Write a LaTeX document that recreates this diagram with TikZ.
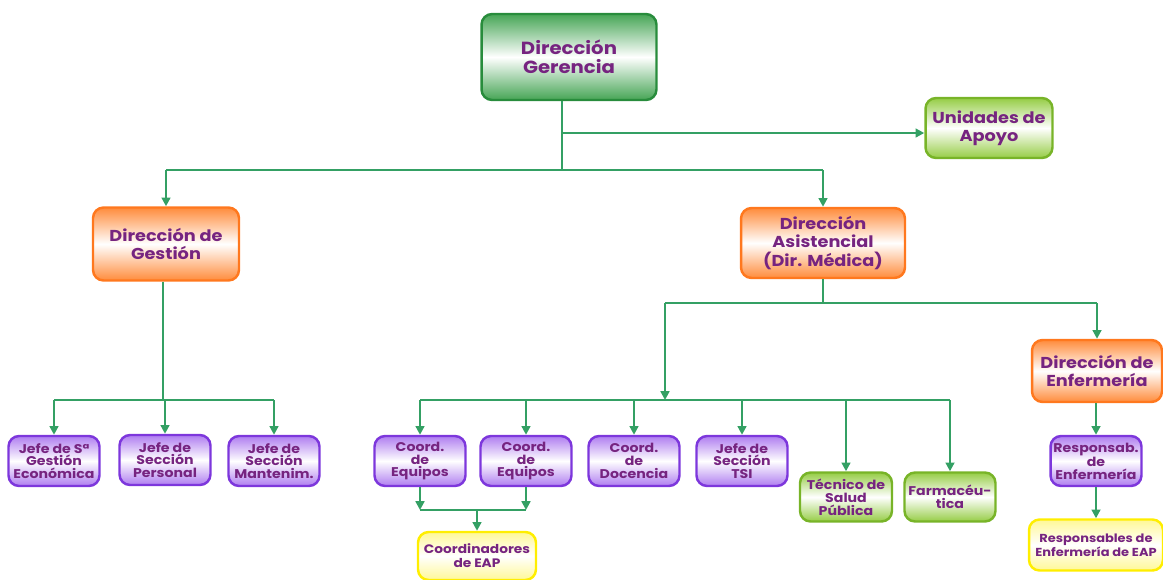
\documentclass[tikz,border=0pt]{standalone}
\usepackage{fontspec}
\setmainfont{Poppins}
\newfontfamily\widefont[FakeStretch=1.12]{Poppins}
\usetikzlibrary{arrows.meta}
\usetikzlibrary{positioning}

\definecolor{txtpurple}{RGB}{118,36,128}
\definecolor{linegreen}{RGB}{52,160,100}
\definecolor{darkgreen}{RGB}{40,140,60}
\definecolor{midgreen}{RGB}{70,165,85}
\definecolor{limeedge}{RGB}{120,180,40}
\definecolor{limefill}{RGB}{150,205,70}
\definecolor{orangeedge}{RGB}{255,120,30}
\definecolor{orangefill}{RGB}{255,140,60}
\definecolor{violetedge}{RGB}{125,55,220}
\definecolor{violetfill}{RGB}{175,125,240}
\definecolor{yellowedge}{RGB}{255,238,0}
\definecolor{yellowfill}{RGB}{255,248,150}

\tikzset{
  box/.style={rounded corners=6pt, line width=1.4pt, align=center, text=txtpurple,
    inner sep=1pt},
  topbox/.style={box, draw=darkgreen, top color=midgreen, bottom color=midgreen, middle color=white,
    minimum width=3.5cm, minimum height=1.72cm, font=\widefont\fontsize{10}{11}\selectfont\bfseries},
  limebox/.style={box, draw=limeedge, top color=limefill, bottom color=limefill, middle color=white,
    font=\widefont\fontsize{7.2}{7.4}\selectfont\bfseries},
  dirbox/.style={box, draw=orangeedge, top color=orangefill, bottom color=orangefill, middle color=white,
    font=\widefont\fontsize{9}{10.6}\selectfont\bfseries},
  jefebox/.style={box, draw=violetedge, top color=violetfill, bottom color=violetfill, middle color=white,
    minimum width=1.82cm, minimum height=1cm, font=\widefont\fontsize{7.2}{7.2}\selectfont\bfseries},
  eapbox/.style={box, draw=yellowedge, top color=yellowfill, bottom color=yellowfill, middle color=white,
    minimum height=0.96cm, font=\widefont\fontsize{7}{8}\selectfont\bfseries},
  link/.style={draw=linegreen, line width=1.3pt},
  arr/.style={link, -{Triangle[length=5pt,width=5pt]}}
}

\begin{document}
\begin{tikzpicture}[x=0.02cm, y=-0.02cm]
    \useasboundingbox (0,0) rectangle (1163,579);

    % top level
    \node [topbox] (ger) at (569,57) {Dirección\\Gerencia};
    \node [limebox, minimum width=2.54cm, minimum height=1.2cm,
      font=\widefont\fontsize{9}{10.5}\selectfont\bfseries] (apoyo) at (989,128) {Unidades de\\Apoyo};

    % directions
    \node [dirbox, minimum width=2.92cm, minimum height=1.46cm] (gest) at (166,244) {Dirección de\\Gestión};
    \node [dirbox, minimum width=3.28cm, minimum height=1.4cm] (asis) at (823,243) {Dirección\\Asistencial\\(Dir. Médica)};
    \node [dirbox, minimum width=2.6cm, minimum height=1.24cm] (enf) at (1097,371) {Dirección de\\Enfermería};

    % management units
    \node [jefebox] (jec) at (54,461) {Jefe de Sª\\Gestión\\Económica};
    \node [jefebox] (jpe) at (165,460) {Jefe de\\Sección\\Personal};
    \node [jefebox] (jma) at (274,461) {Jefe de\\Sección\\Mantenim.};

    % care units
    \node [jefebox] (ceq1) at (420,461) {Coord.\\de\\Equipos};
    \node [jefebox] (ceq2) at (526,461) {Coord.\\de\\Equipos};
    \node [jefebox] (cdoc) at (634,461) {Coord.\\de\\Docencia};
    \node [jefebox] (jtsi) at (742,461) {Jefe de\\Sección\\TSI};
    \node [limebox, minimum width=1.84cm, minimum height=0.98cm] (tsp) at (846,497) {Técnico de\\Salud\\Pública};
    \node [limebox, minimum width=1.82cm, minimum height=0.98cm] (farm) at (950,497) {Farmacéu-\\tica};
    \node [eapbox, minimum width=2.36cm] (ceap) at (477,556) {Coordinadores\\de EAP};

    % nursing
    \node [jefebox] (renf) at (1096,461) {Responsab.\\de\\Enfermería};
    \node [eapbox, minimum width=2.68cm, minimum height=1.02cm,
      font=\widefont\fontsize{6.6}{8}\selectfont\bfseries] (reap) at (1096,545) {Responsables de\\Enfermería de EAP};

    % connectors from the top
    \coordinate (gbus) at (562,170);
    \coordinate (sbus) at (562,133);
    \draw [link] (ger.south -| gbus) -- (gbus);
    \draw [arr] (sbus) -- (apoyo.west |- sbus);
    \draw [link] (gest.north |- gbus) -- (asis.north |- gbus);
    \draw [arr] (gest.north |- gbus) -- (gest.north);
    \draw [arr] (asis.north |- gbus) -- (asis.north);

    % management branch
    \coordinate (mbus) at (163,400);
    \draw [link] (gest.south -| mbus) -- (mbus);
    \draw [link] (jec.north |- mbus) -- (jma.north |- mbus);
    \foreach \n in {jec, jpe, jma}
      \draw [arr] (\n.north |- mbus) -- (\n.north);

    % care branch
    \coordinate (abus) at (823,303);
    \coordinate (aleft) at (665,303);
    \coordinate (cbus) at (665,400);
    \draw [link] (asis.south) -- (abus);
    \draw [link] (aleft) -- (enf.north |- abus);
    \draw [arr] (enf.north |- abus) -- (enf.north);
    \draw [arr] (aleft) -- (cbus);
    \draw [link] (ceq1.north |- cbus) -- (farm.north |- cbus);
    \foreach \n in {ceq1, ceq2, cdoc, jtsi, tsp, farm}
      \draw [arr] (\n.north |- cbus) -- (\n.north);

    % joint coordination
    \coordinate (ebus) at (477,510);
    \draw [arr] (ceq1.south) -- (ceq1.south |- ebus);
    \draw [arr] (ceq2.south) -- (ceq2.south |- ebus);
    \draw [link] (ceq1.south |- ebus) -- (ceq2.south |- ebus);
    \draw [arr] (ebus) -- (ceap.north);

    % nursing chain
    \draw [arr] (enf.south -| renf.north) -- (renf.north);
    \draw [arr] (renf.south) -- (reap.north);
\end{tikzpicture}
\end{document}
